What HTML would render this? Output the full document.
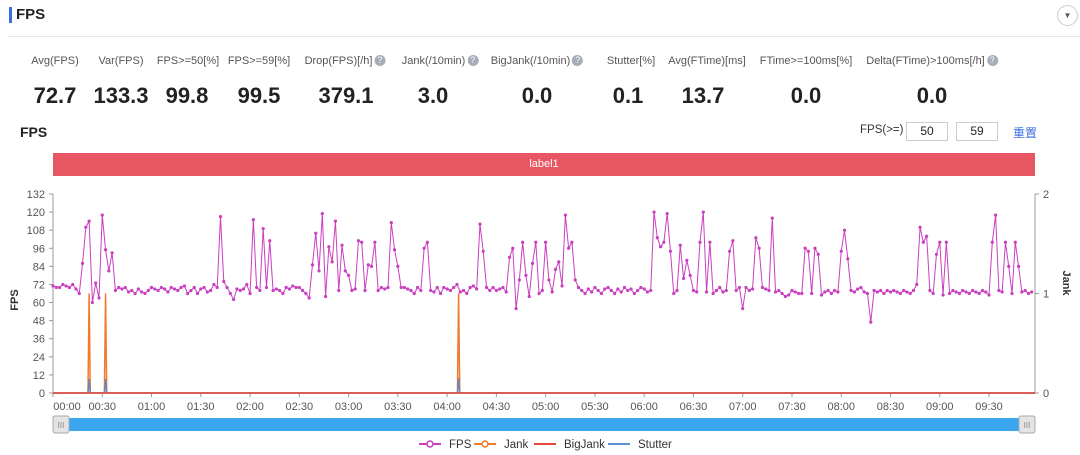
<!DOCTYPE html>
<html><head><meta charset="utf-8">
<style>
body{margin:0;width:1080px;height:455px;background:#fff;font-family:"Liberation Sans","Noto Sans CJK SC",sans-serif;overflow:hidden;position:relative;color:#222}
.abs{position:absolute}
.lab{position:absolute;top:55px;font-size:11px;color:#555;transform:translateX(-50%);white-space:nowrap}
.val{position:absolute;top:83px;font-size:22px;font-weight:bold;color:#222;transform:translateX(-50%);white-space:nowrap}
.q{display:inline-block;width:11px;height:11px;border-radius:50%;background:#a6acb8;color:#fff;font-size:9px;line-height:11px;text-align:center;vertical-align:1px;margin-left:2px}
.inp{position:absolute;top:122px;width:40px;height:17px;border:1px solid #ccc;font-size:12px;text-align:center;line-height:17px}
</style></head><body>
<div class="abs" style="left:9px;top:7px;width:3px;height:16px;background:#3b6fe0"></div>
<div class="abs" style="left:16px;top:6px;font-size:15px;font-weight:bold">FPS</div>
<div class="abs" style="left:1057px;top:5px;width:19px;height:19px;border:1px solid #ccc;border-radius:50%;font-size:8px;text-align:center;line-height:19px;color:#555">▼</div>
<div class="abs" style="left:8px;top:36px;width:1072px;height:1px;background:#e8e8e8"></div>

<div class="lab" style="left:55px">Avg(FPS)</div>
<div class="lab" style="left:121px">Var(FPS)</div>
<div class="lab" style="left:188px">FPS&gt;=50[%]</div>
<div class="lab" style="left:259px">FPS&gt;=59[%]</div>
<div class="lab" style="left:345px">Drop(FPS)[/h]<span class="q">?</span></div>
<div class="lab" style="left:440px">Jank(/10min)<span class="q">?</span></div>
<div class="lab" style="left:537px">BigJank(/10min)<span class="q">?</span></div>
<div class="lab" style="left:631px">Stutter[%]</div>
<div class="lab" style="left:707px">Avg(FTime)[ms]</div>
<div class="lab" style="left:806px">FTime&gt;=100ms[%]</div>
<div class="lab" style="left:932px">Delta(FTime)&gt;100ms[/h]<span class="q">?</span></div>

<div class="val" style="left:55px">72.7</div>
<div class="val" style="left:121px">133.3</div>
<div class="val" style="left:187px">99.8</div>
<div class="val" style="left:259px">99.5</div>
<div class="val" style="left:346px">379.1</div>
<div class="val" style="left:433px">3.0</div>
<div class="val" style="left:537px">0.0</div>
<div class="val" style="left:628px">0.1</div>
<div class="val" style="left:703px">13.7</div>
<div class="val" style="left:806px">0.0</div>
<div class="val" style="left:932px">0.0</div>

<div class="abs" style="left:20px;top:124px;font-size:14px;font-weight:bold">FPS</div>
<div class="abs" style="left:860px;top:124px;font-size:11.5px;color:#333">FPS(&gt;=)</div>
<div class="inp" style="left:906px">50</div>
<div class="inp" style="left:956px">59</div>
<div class="abs" style="left:1013px;top:124px;font-size:12px;color:#3b6fe0">重置</div>

<div class="abs" style="left:53px;top:153px;width:982px;height:23px;background:#e85563;color:#fff;font-size:11px;text-align:center;line-height:23px">label1</div>

<svg class="abs" style="left:0;top:0" width="1080" height="455" id="chart"></svg>

<script>
const fpsValues=[
71,70,70,72,71,70,72,69,66,86,
110,114,60,73,63,118,95,81,93,68,
70,69,70,67,68,66,69,67,66,68,
70,69,68,70,69,67,70,69,68,70,
71,66,68,70,66,69,70,67,68,72,
70,117,74,70,66,62,69,68,69,72,
66,115,70,68,109,70,101,68,69,68,
66,70,69,71,70,70,68,66,63,85,
106,81,119,64,97,87,114,68,98,81,
78,68,69,101,100,68,85,84,100,68,
70,69,70,113,95,84,70,70,69,68,
66,70,68,96,100,68,67,70,66,70,
69,68,70,72,67,68,66,70,71,69,
112,94,70,68,70,68,69,70,67,90,
96,56,75,100,78,64,86,100,66,68,
100,75,67,82,87,71,118,96,100,75,
70,68,66,69,67,70,68,66,69,70,
68,66,69,67,70,68,69,66,68,70,
69,67,68,120,103,97,100,119,94,66,
68,98,76,88,78,68,67,100,120,67,
100,66,68,70,67,68,94,101,68,70,
56,70,68,69,103,96,70,69,68,116,
67,68,66,64,65,68,67,66,66,96,
94,66,96,92,65,67,68,66,68,67,
94,108,89,68,67,69,70,67,66,47,
68,67,68,66,68,67,68,67,66,68,
67,66,68,72,110,100,104,68,66,92,
100,65,100,66,68,67,66,68,67,66,
68,67,66,68,67,65,100,118,68,67,
100,84,66,100,84,67,68,66,67];
const sampleStep=2; // seconds between FPS samples
const jankTimes=[22,32,247];
const jankValues=[1,1,1];
const stutterTimes=[22,32,247];
const stutterValues=[0.14,0.14,0.15];
const leftTicks=[0,12,24,36,48,60,72,84,96,108,120,132];
const rightTicks=[0,1,2];
const xTickLabels=["00:00","00:30","01:00","01:30","02:00","02:30","03:00","03:30","04:00","04:30","05:00","05:30","06:00","06:30","07:00","07:30","08:00","08:30","09:00","09:30"];

const X0=53,X1=1035,Y0=393,Y1=194,TMAX=598;
const xs=t=>X0+(t/TMAX)*(X1-X0);
const yl=v=>Y0-(v/132)*(Y0-Y1);
const yr=v=>Y0-(v/2)*(Y0-Y1);
const svg=document.getElementById('chart');
const NS='http://www.w3.org/2000/svg';
function mk(tag,attrs,parent){const e=document.createElementNS(NS,tag);for(const k in attrs)e.setAttribute(k,attrs[k]);(parent||svg).appendChild(e);return e;}

let a=mk('line',{x1:X0,y1:Y1,x2:X0,y2:Y0,stroke:'#999'});


a=mk('line',{x1:X1,y1:Y1,x2:X1,y2:Y0,stroke:'#999'});


a=mk('line',{x1:X0,y1:Y0,x2:X1,y2:Y0,stroke:'#999'});


leftTicks.forEach(v=>{
  mk('line',{x1:X0-4,y1:yl(v),x2:X0,y2:yl(v),stroke:'#999'});
  const t=mk('text',{x:X0-8,y:yl(v)+4,'text-anchor':'end','font-size':11,fill:'#555'});t.textContent=v;
  
  
});
rightTicks.forEach(v=>{
  mk('line',{x1:X1,y1:yr(v),x2:X1+4,y2:yr(v),stroke:'#999'});
  const t=mk('text',{x:X1+8,y:yr(v)+4,'font-size':11,fill:'#555'});t.textContent=v;
  
  
});
xTickLabels.forEach((l,i)=>{
  const x=xs(i*30);
  mk('line',{x1:x,y1:Y0,x2:x,y2:Y0+4,stroke:'#999'});
  const t=mk('text',{x:i===0?x+14:x,y:Y0+17,'text-anchor':'middle','font-size':11,fill:'#555'});t.textContent=l;
  
  
});
let t=mk('text',{x:18,y:300,'text-anchor':'middle','font-size':11,'font-weight':'bold',fill:'#333',transform:'rotate(-90 18 300)'});t.textContent='FPS';


t=mk('text',{x:1063,y:283,'text-anchor':'middle','font-size':11,'font-weight':'bold',fill:'#333',transform:'rotate(90 1063 283)'});t.textContent='Jank';



function spikes(times,vals,color,name){
  let pts=[[0,0]];
  times.forEach((tt,i)=>{pts.push([tt-0.7,0],[tt,vals[i]],[tt+0.7,0]);});
  pts.push([TMAX,0]);
  const e=mk('polyline',{points:pts.map(q=>xs(q[0])+','+yr(q[1])).join(' '),fill:'none',stroke:color,'stroke-width':1.5});
  
  
}
spikes(jankTimes,jankValues,'#f07b2c','jank-line');
spikes(stutterTimes,stutterValues,'#6b86b8','stutter-line');
let p=mk('line',{x1:X0,y1:yr(0),x2:X1,y2:yr(0),stroke:'#e8453c','stroke-width':1.5});



const fpsPts=fpsValues.map((v,i)=>xs(i*sampleStep)+','+yl(v)).join(' ');
p=mk('polyline',{points:fpsPts,fill:'none',stroke:'#c93fc0','stroke-width':1});


fpsValues.forEach((v,i)=>{
  const c=mk('circle',{cx:xs(i*sampleStep),cy:yl(v),r:1.6,fill:'#c93fc0'});
  
  
});

let s=mk('rect',{x:X0+8,y:418,width:X1-X0-16,height:13,fill:'#3aa6ee',rx:2});


[X0,X1-16].forEach(hx=>{
  const h=mk('rect',{x:hx,y:416,width:16,height:17,fill:'#e4e4e4',stroke:'#aaa',rx:2});
  
  
  const g=mk('text',{x:hx+8,y:428,'text-anchor':'middle','font-size':8,fill:'#888'});g.textContent='III';
});
const legend=[['FPS','#c93fc0',419,true],['Jank','#f07b2c',474,true],['BigJank','#e8453c',534,false],['Stutter','#5b8fd6',608,false]];
legend.forEach(L=>{
  const g=mk('g',{});
  
  
  mk('line',{x1:L[2],y1:444,x2:L[2]+22,y2:444,stroke:L[1],'stroke-width':2},g);
  if(L[3])mk('circle',{cx:L[2]+11,cy:444,r:3,fill:'#fff',stroke:L[1],'stroke-width':1.5},g);
  const tx=mk('text',{x:L[2]+30,y:448,'font-size':11.5,fill:'#333'},g);tx.textContent=L[0];
});
</script>
</body></html>
